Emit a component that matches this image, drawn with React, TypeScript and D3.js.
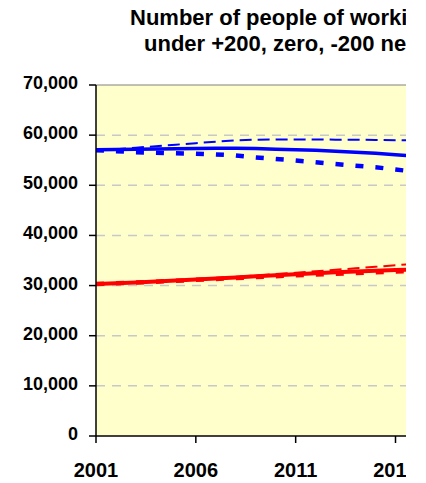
import React from 'react';
import * as d3 from 'd3';

const years = [2001, 2002, 2003, 2004, 2005, 2006, 2007, 2008, 2009, 2010, 2011, 2012, 2013, 2014, 2015, 2016, 2017];

// working age
const workZero = [57100, 57150, 57200, 57250, 57300, 57350, 57380, 57380, 57350, 57200, 57100, 57000, 56800, 56600, 56400, 56100, 55800];
const workPlus = [57000, 57200, 57500, 57800, 58100, 58400, 58700, 58950, 59100, 59150, 59150, 59150, 59100, 59100, 59050, 59000, 58950];
const workMinus = [57000, 56800, 56600, 56500, 56400, 56300, 56150, 55950, 55550, 55250, 54950, 54600, 54250, 53900, 53600, 53150, 52700];

// pensionable age
const penZero = [30300, 30450, 30600, 30800, 31000, 31200, 31400, 31600, 31850, 32050, 32250, 32450, 32650, 32800, 32950, 33100, 33250];
const penPlus = [30300, 30450, 30600, 30800, 31000, 31250, 31500, 31750, 32000, 32300, 32550, 32850, 33150, 33450, 33750, 34050, 34350];
const penMinus = [30300, 30450, 30600, 30780, 30950, 31150, 31330, 31500, 31700, 31880, 32050, 32200, 32350, 32500, 32650, 32800, 32950];

const yTicks = [0, 10000, 20000, 30000, 40000, 50000, 60000, 70000];
const xTicks = [2001, 2006, 2011, 2016];
const titleLines = ['Number of people of working age and pensionable age', 'under +200, zero, -200 net migration'];

export default function App() {
  const left = 96, right = 406, top = 85, bottom = 436;
  const x = d3.scaleLinear().domain([2001, 2016]).range([left, 395.5]);
  const y = d3.scaleLinear().domain([0, 70000]).range([bottom, top]);

  const line = d3.line<number>().x((_, i) => x(years[i])).y(d => y(d));

  const series = [
    { values: workPlus, color: '#0000FF', width: 2, dash: '12,6' },
    { values: workMinus, color: '#0000FF', width: 4.5, dash: '8,12' },
    { values: workZero, color: '#0000FF', width: 3.5, dash: undefined },
    { values: penPlus, color: '#FF0000', width: 2, dash: '12,6' },
    { values: penMinus, color: '#FF0000', width: 4.5, dash: '8,12' },
    { values: penZero, color: '#FF0000', width: 4, dash: undefined },
  ];

  return (
    <svg width={406} height={483} style={{ position: 'absolute', left: 0, top: 0, background: '#fff' }}
      fontFamily="Arial, 'Liberation Sans', sans-serif" fontWeight="bold">
      <defs>
        <clipPath id="plot">
          <rect x={left} y={top - 3} width={right - left} height={bottom - top + 3} />
        </clipPath>
      </defs>

      {/* title */}
      <text x={130} y={25} fontSize={22} fill="#000">{titleLines[0]}</text>
      <text x={144} y={51} fontSize={22} fill="#000">{titleLines[1]}</text>

      {/* plot area */}
      <rect x={left} y={top} width={right - left} height={bottom - top} fill="#FFFFCC" />
      <line x1={left} x2={right} y1={top} y2={top} stroke="#808080" strokeWidth={1} />

      {/* grid */}
      {yTicks.filter(t => t > 0 && t < 70000).map(t => (
        <line key={t} x1={left} x2={right} y1={y(t)} y2={y(t)} stroke="#C8C8C8" strokeWidth={1.5} strokeDasharray="9,7" />
      ))}

      {/* series */}
      <g clipPath="url(#plot)">
        {series.map((s, i) => (
          <path key={i} d={line(s.values) || ''} fill="none" stroke={s.color} strokeWidth={s.width}
            strokeDasharray={s.dash} />
        ))}
      </g>

      {/* axes */}
      <line x1={left} x2={left} y1={top} y2={bottom} stroke="#000" strokeWidth={1.5} />
      <line x1={left} x2={right} y1={bottom} y2={bottom} stroke="#000" strokeWidth={1.5} />

      {yTicks.map(t => (
        <g key={t}>
          <line x1={left - 7} x2={left} y1={y(t)} y2={y(t)} stroke="#000" strokeWidth={1.5} />
          <text x={78} y={y(t) + 4} textAnchor="end" fontSize={18} fill="#000">{d3.format(',')(t)}</text>
        </g>
      ))}

      {xTicks.map(t => (
        <g key={t}>
          <line x1={x(t)} x2={x(t)} y1={bottom} y2={bottom + 7} stroke="#000" strokeWidth={1.5} />
          <text x={x(t)} y={476.5} textAnchor="middle" fontSize={20} fill="#000">{t}</text>
        </g>
      ))}
    </svg>
  );
}
